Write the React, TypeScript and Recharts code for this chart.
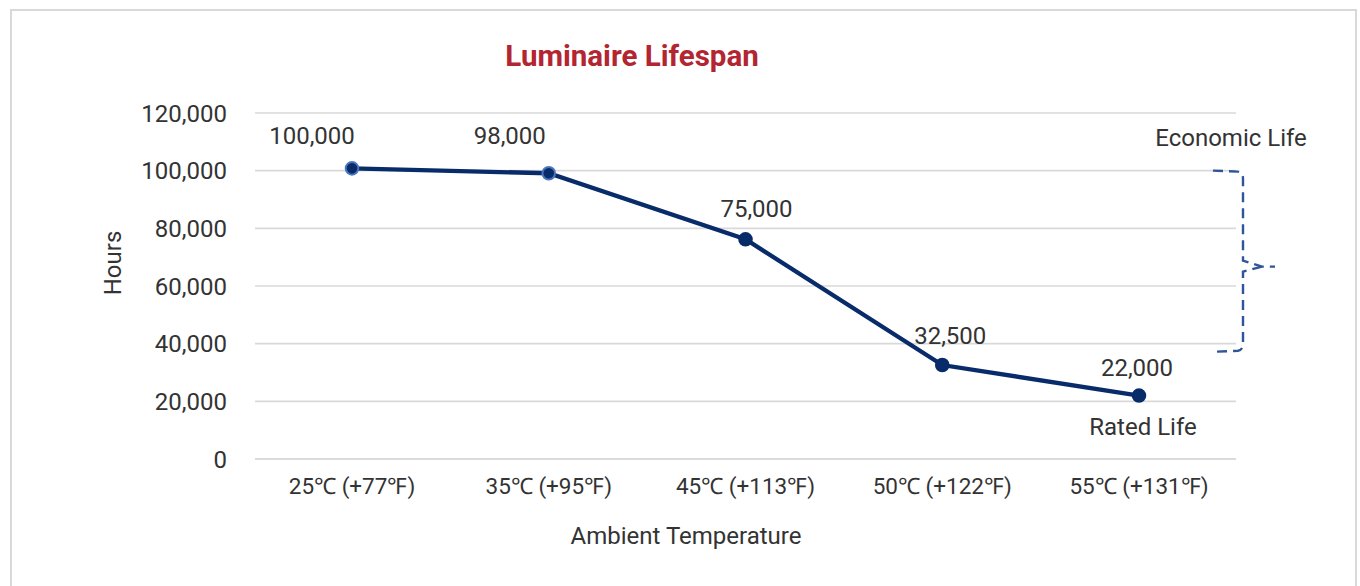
import {
  CartesianGrid,
  LabelList,
  Line,
  LineChart,
  ReferenceArea,
  XAxis,
  YAxis,
} from "recharts";

const temperatures = [
  "25℃ (+77℉)",
  "35℃ (+95℉)",
  "45℃ (+113℉)",
  "50℃ (+122℉)",
  "55℃ (+131℉)",
];
const hours = [100800, 99100, 76200, 32600, 22000];
const hourLabels = ["100,000", "98,000", "75,000", "32,500", "22,000"];
const yTicks = [0, 20000, 40000, 60000, 80000, 100000, 120000];
const economicLife = [37200, 100000];

// label placement, same order as the points
const labelOffsets = [
  { dx: -40, dy: -32 },
  { dx: -39, dy: -37 },
  { dx: 11, dy: -30 },
  { dx: 8, dy: -29 },
  { dx: -2, dy: -28 },
];

const NAVY = "#082b6a";
const BRACKET = "#2f5597";
const TEXT = "#333333";
const GRID = "#d9d9d9";
const XPAD = 97;
const FS = 24;

const data = temperatures.map((t, i) => ({ temp: t, hours: hours[i], label: hourLabels[i] }));

const Dot = (props: any) => {
  const { cx, cy, index } = props;
  if (cx == null || cy == null) return null;
  const ring = index < 2 ? "#4a76c0" : NAVY;
  return <circle cx={cx} cy={cy} r={6.3} fill={NAVY} stroke={ring} strokeWidth={2} />;
};

const PointLabel = (props: any) => {
  const { x, y, index } = props;
  const off = labelOffsets[index] || { dx: 0, dy: -28 };
  return (
    <g>
      <text
        x={x + off.dx}
        y={y + off.dy}
        textAnchor="middle"
        dominantBaseline="central"
        fontSize={FS}
        fill={TEXT}
      >
        {hourLabels[index]}
      </text>
      {index === hourLabels.length - 1 && (
        <text
          x={x + 4}
          y={y + 31}
          textAnchor="middle"
          dominantBaseline="central"
          fontSize={FS}
          fill={TEXT}
        >
          Rated Life
        </text>
      )}
    </g>
  );
};

const Bracket = (props: any) => {
  const { x, y, width, height } = props;
  // area spans first..last point; the plot edge sits one padding further
  const right = x + width + XPAD;
  const top = y;
  const bottom = y + height;
  const vx = right + 7;
  const tipY = top + height * 0.53;
  const d = [
    `M ${right - 23} ${top}`,
    `L ${vx - 5} ${top + 1}`,
    `Q ${vx} ${top + 2} ${vx} ${top + 8}`,
    `L ${vx} ${tipY - 6}`,
    `L ${vx + 19} ${tipY}`,
    `L ${vx + 32} ${tipY}`,
    `M ${vx + 19} ${tipY}`,
    `L ${vx} ${tipY + 5}`,
    `L ${vx} ${bottom - 8}`,
    `Q ${vx} ${bottom - 2} ${vx - 5} ${bottom - 1}`,
    `L ${right - 23} ${bottom}`,
  ].join(" ");
  return (
    <g>
      <path d={d} fill="none" stroke={BRACKET} strokeWidth={2.4} strokeDasharray="10 6" />
      <text
        x={right - 5}
        y={top - 33}
        textAnchor="middle"
        dominantBaseline="central"
        fontSize={FS}
        fill={TEXT}
      >
        Economic Life
      </text>
    </g>
  );
};

const App = () => {
  return (
    <div
      style={{
        position: "absolute",
        left: 0,
        top: 0,
        width: 1360,
        height: 586,
        overflow: "hidden",
        background: "#fff",
        fontFamily: "Roboto, sans-serif",
      }}
    >
      <div
        style={{
          position: "absolute",
          left: 10,
          top: 9,
          width: 1347,
          height: 620,
          border: `2px solid ${GRID}`,
          boxSizing: "border-box",
        }}
      />
      <div
        style={{
          position: "absolute",
          left: 0,
          width: 1264,
          top: 38,
          textAlign: "center",
          fontSize: 29.5,
          fontWeight: 700,
          color: "#b22531",
          lineHeight: "36px",
        }}
      >
        Luminaire Lifespan
      </div>
      <div
        style={{
          position: "absolute",
          left: 113 - 60,
          top: 263 - 15,
          width: 120,
          height: 30,
          lineHeight: "30px",
          textAlign: "center",
          fontSize: FS,
          color: TEXT,
          transform: "rotate(-90deg)",
        }}
      >
        Hours
      </div>
      <div
        style={{
          position: "absolute",
          left: 255,
          width: 862,
          top: 521,
          lineHeight: "30px",
          textAlign: "center",
          fontSize: FS,
          color: TEXT,
        }}
      >
        Ambient Temperature
      </div>
      <div style={{ position: "absolute", left: 0, top: 0 }}>
        <LineChart
          width={1360}
          height={586}
          data={data}
          margin={{ top: 113, right: 124, bottom: 67, left: 155 }}
          style={{ fontFamily: "Roboto, sans-serif" }}
        >
          <CartesianGrid vertical={false} stroke={GRID} strokeWidth={1.6} />
          <XAxis
            dataKey="temp"
            height={60}
            padding={{ left: XPAD, right: XPAD }}
            axisLine={{ stroke: GRID, strokeWidth: 1.6 }}
            tickLine={false}
            tickSize={0}
            tickMargin={19}
            tick={{ fontSize: 22.5, fill: TEXT }}
            interval={0}
          />
          <YAxis
            width={100}
            domain={[0, 120000]}
            ticks={yTicks}
            axisLine={false}
            tickLine={false}
            tickSize={0}
            tickMargin={28}
            tick={{ fontSize: FS, fill: TEXT }}
            tickFormatter={(v: number) => v.toLocaleString("en-US")}
          />
          <ReferenceArea
            y1={economicLife[0]}
            y2={economicLife[1]}
            ifOverflow="visible"
            shape={Bracket}
          />
          <Line
            type="linear"
            dataKey="hours"
            stroke={NAVY}
            strokeWidth={4.3}
            dot={Dot}
            activeDot={false}
            isAnimationActive={false}
          >
            <LabelList dataKey="label" content={PointLabel} />
          </Line>
        </LineChart>
      </div>
    </div>
  );
};

export default App;
